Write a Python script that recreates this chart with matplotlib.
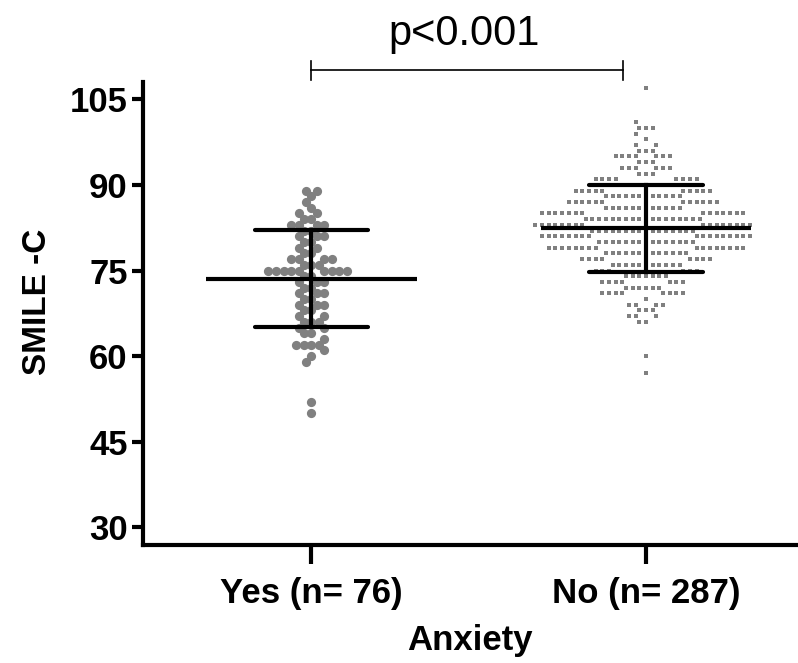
import numpy as np
import matplotlib
matplotlib.use("Agg")
import matplotlib.pyplot as plt

# ---- data -------------------------------------------------------------
group_labels = ["Yes (n= 76)", "No (n= 287)"]

# SMILE-C scores (integer values) and how many subjects share each score
yes_scores = [50, 52, 59, 60, 61, 62, 63, 64, 65, 66, 67, 68, 69, 70, 71, 72, 73, 74,
              75, 76, 77, 78, 79, 80, 81, 82, 83, 84, 85, 86, 87, 88, 89]
yes_counts = [1, 1, 1, 1, 1, 4, 1, 2, 2, 3, 2, 2, 3, 2, 3, 2, 3, 2,
              9, 3, 4, 2, 2, 2, 3, 2, 4, 2, 2, 1, 1, 1, 2]

no_scores = [57, 60, 66, 67, 68, 69, 70, 71, 72, 73, 74, 75, 76, 77, 78, 79, 80,
             81, 82, 83, 84, 85, 86, 87, 88, 89, 90, 91, 92, 93, 94, 95, 96, 97,
             98, 99, 100, 101, 107]
no_counts = [1, 1, 2, 3, 3, 4, 1, 8, 6, 7, 7, 6, 11, 8, 13, 16, 15,
             17, 16, 16, 18, 14, 12, 12, 12, 10, 9, 8, 3, 6, 3, 7, 3, 2,
             1, 1, 3, 1, 1]

p_text = "p<0.001"
x_title = "Anxiety"
y_title = "SMILE -C"
y_ticks = [30, 45, 60, 75, 90, 105]

font_family = "Liberation Sans"

# ---- figure -----------------------------------------------------------
fig = plt.figure(figsize=(7.98, 6.63), dpi=100)
ax = fig.add_axes([0.179, 0.178, 0.821, 0.698])
ax.set_xlim(0.496, 2.454)
ax.set_ylim(26.9, 108.0)

for side in ("top", "right"):
    ax.spines[side].set_visible(False)
for side in ("left", "bottom"):
    ax.spines[side].set_linewidth(3.0)
    ax.spines[side].set_color("black")

ax.set_yticks(y_ticks)
ax.set_xticks([1, 2])
ax.set_xticklabels(group_labels)
ax.tick_params(axis="y", length=8, width=3, color="black", pad=3)
ax.tick_params(axis="x", length=14, width=3, color="black", pad=9)
for lab in ax.get_yticklabels() + ax.get_xticklabels():
    lab.set_fontfamily(font_family)
    lab.set_fontweight("bold")
    lab.set_fontsize(25)

ax.set_ylabel(y_title, fontsize=24, fontweight="bold", family=font_family)
ax.yaxis.set_label_coords(-0.137, 0.525)
ax.set_xlabel(x_title, fontsize=25, fontweight="bold", family=font_family, labelpad=10)

# pixel scale of the data axes (used to lay the dots out without overlap)
fig.canvas.draw()
p0 = ax.transData.transform((0, 0))
p1 = ax.transData.transform((1, 1))
sx = p1[0] - p0[0]
sy = p1[1] - p0[1]


def swarm_positions(values, center, d_px, order):
    """Greedy beeswarm: each dot goes to the free spot nearest the centre."""
    placed = []
    xs = np.zeros(len(values))
    for i in order:
        y = values[i] * sy
        neigh = [(px, py) for px, py in placed if abs(py - y) < d_px]
        cands = [0.0]
        for px, py in neigh:
            off = np.sqrt(d_px ** 2 - (py - y) ** 2)
            cands += [px - off, px + off]
        cands.sort(key=lambda c: (round(abs(c), 6), c))
        chosen = 0.0
        for c in cands:
            if all((c - px) ** 2 + (py - y) ** 2 >= d_px ** 2 - 1e-6 for px, py in neigh):
                chosen = c
                break
        placed.append((chosen, y))
        xs[i] = chosen
    return center + xs / sx


def row_order(values):
    # even-valued rows are laid out first, odd-valued rows fill around them
    v = np.asarray(values)
    return sorted(range(len(v)), key=lambda i: (int(v[i]) % 2, v[i]))


yes_vals = np.repeat(yes_scores, yes_counts).astype(float)
no_vals = np.repeat(no_scores, no_counts).astype(float)

yes_x = swarm_positions(yes_vals, 1, 7.6, row_order(yes_vals))
no_x = swarm_positions(no_vals, 2, 6.7, row_order(no_vals))

dot_color = "#808080"
ax.scatter(yes_x, yes_vals, s=44, marker="o", color=dot_color, linewidths=0, zorder=2)
ax.scatter(no_x, no_vals, s=11, marker="s", color=dot_color, linewidths=0, zorder=2)

# mean and SD bars
for xc, vals in ((1, yes_vals), (2, no_vals)):
    m = vals.mean()
    s = vals.std(ddof=1)
    ax.plot([xc - 0.315, xc + 0.315], [m, m], color="black", lw=3, zorder=3, solid_capstyle="butt")
    ax.plot([xc - 0.17, xc + 0.17], [m + s, m + s], color="black", lw=3, zorder=3, solid_capstyle="round")
    ax.plot([xc - 0.17, xc + 0.17], [m - s, m - s], color="black", lw=3, zorder=3, solid_capstyle="round")
    ax.plot([xc, xc], [m - s, m + s], color="black", lw=3, zorder=3)

# significance bracket
yb = 110.1
ax.plot([1.0, 1.931], [yb, yb], color="black", lw=1.2, clip_on=False)
ax.plot([1.0, 1.0], [yb - 1.7, yb + 1.7], color="black", lw=1.2, clip_on=False)
ax.plot([1.931, 1.931], [yb - 1.7, yb + 1.7], color="black", lw=1.2, clip_on=False)
ax.text(1.456, 113.0, p_text, ha="center", va="bottom", fontsize=30, family=font_family)

fig.savefig("out.png", dpi=100)
